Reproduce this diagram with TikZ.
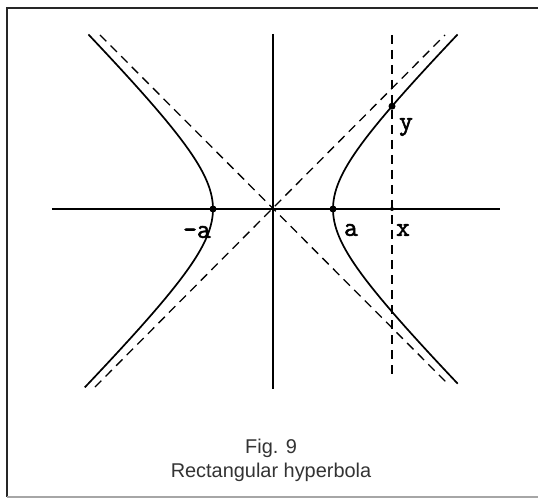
\documentclass[tikz,border=0pt]{standalone}
\usepackage{fontspec}
\setsansfont{Liberation Sans}
\newfontfamily\labelfont[FakeBold=2]{Latin Modern Mono}

\tikzset{
    axis/.style={line width=1.7bp},
    curve/.style={line width=1.7bp},
    asym/.style={line width=1.3bp, dash pattern=on 9bp off 6bp},
    dot/.style={circle, fill, inner sep=0pt, minimum size=7bp},
    lbl/.style={font=\labelfont\fontsize{27}{27}\selectfont, inner sep=0pt}
}

\begin{document}
\begin{tikzpicture}[x=1bp, y=1bp]

        % Frame
        \useasboundingbox (-273,-293) rectangle (265,209);
        \fill[white] (-273,-293) rectangle (265,209);
        \draw[black!85, line width=1.5bp] (265,201) -- (-266,201) -- (-266,-288);
        \draw[black!35, line width=1.2bp] (-266,-288) -- (265,-288);

        % Axes
        \draw[axis] (-221,0) -- (227,0);
        \draw[axis] (0,175) -- (0,-180);

        % Asymptotes
        \draw[asym] (-173,174) -- (176,-176);
        \draw[asym] (-178,-178) -- (172,174);

        % Hyperbola, both branches
        \draw[curve] plot[domain=-1.79:1.79, samples=60, variable=\t]
            ({60*cosh(\t)},{60*sinh(\t)});
        \draw[curve] plot[domain=-1.81:1.79, samples=60, variable=\t]
            ({-60*cosh(\t)},{60*sinh(\t)});

        % Vertical line through x
        \draw[asym] (119,174) -- (119,-171);

        % Points
        \node[dot] (A) at (60,0) {};
        \node[dot] (mA) at (-60,0) {};
        \node[dot] (P) at (119,102.8) {};
        \node[dot, minimum size=4bp] (X) at (119,0) {};

        % Labels
        \node[lbl] (la) at (78,-21) {a};
        \node[lbl] (lma) at (-76,-23) {-a};
        \node[lbl] (lx) at (130,-21) {x};
        \node[lbl] (ly) at (133,82) {y};

        % Caption
        \node[font=\sffamily\fontsize{20}{24}\selectfont, text=black!80, align=center] (cap)
            at (-2,-251) {Fig. 9\\Rectangular hyperbola};

\end{tikzpicture}
\end{document}
